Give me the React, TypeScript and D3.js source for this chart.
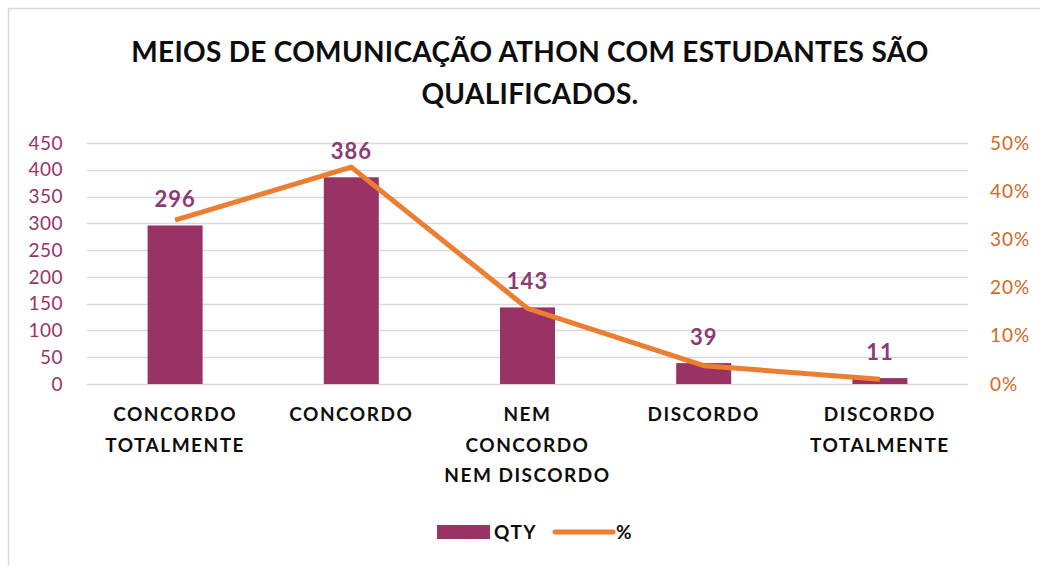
import React, { useRef, useEffect } from 'react'
import * as d3 from 'd3'

// chart data
const categories = [
  ['CONCORDO', 'TOTALMENTE'],
  ['CONCORDO'],
  ['NEM', 'CONCORDO', 'NEM DISCORDO'],
  ['DISCORDO'],
  ['DISCORDO', 'TOTALMENTE'],
]
const qty = [296, 386, 143, 39, 11]
const pct = [0.34, 0.45, 0.157, 0.038, 0.01]
const leftTicks = [0, 50, 100, 150, 200, 250, 300, 350, 400, 450]
const rightTicks = [0, 0.1, 0.2, 0.3, 0.4, 0.5]
const titleLines = ['MEIOS DE COMUNICAÇÃO ATHON COM ESTUDANTES SÃO', 'QUALIFICADOS.']

const BAR = '#993366'
const LINE = '#ED7D31'
const FONT = 'Lato, "Open Sans", sans-serif'

function App() {
  const svgRef = useRef(null)

  useEffect(() => {
    const width = 1040
    const height = 566
    const svg = d3.select(svgRef.current)
    svg.selectAll('*').remove()
    svg.attr('width', width).attr('height', height).style('font-family', FONT)

    //frame
    svg
      .append('rect')
      .attr('x', 8.5)
      .attr('y', 8.5)
      .attr('width', 1040)
      .attr('height', 570)
      .attr('fill', '#fff')
      .attr('stroke', '#d9d9d9')
      .attr('stroke-width', 1.5)

    //title
    svg
      .append('g')
      .selectAll('text')
      .data(titleLines)
      .join('text')
      .attr('x', 530)
      .attr('y', (d, i) => 62 + i * 42)
      .attr('text-anchor', 'middle')
      .attr('font-size', 28)
      .attr('letter-spacing', 0.3)
      .attr('font-weight', 700)
      .attr('fill', '#0d0d0d')
      .text((d) => d)

    const plot = { left: 87, right: 968, top: 143, bottom: 384 }

    const x = d3
      .scaleBand()
      .domain(categories.map((d, i) => String(i)))
      .range([plot.left, plot.right])
    const yL = d3.scaleLinear().domain([0, 450]).range([plot.bottom, plot.top])
    const yR = d3.scaleLinear().domain([0, 0.5]).range([plot.bottom, plot.top])

    //gridlines
    svg
      .append('g')
      .selectAll('line')
      .data(leftTicks)
      .join('line')
      .attr('x1', plot.left)
      .attr('x2', plot.right)
      .attr('y1', (d) => Math.round(yL(d)) + 0.5)
      .attr('y2', (d) => Math.round(yL(d)) + 0.5)
      .attr('stroke', '#d9d9d9')
      .attr('stroke-width', 1.5)

    //left axis labels
    svg
      .append('g')
      .selectAll('text')
      .data(leftTicks)
      .join('text')
      .attr('x', 63)
      .attr('y', (d) => yL(d))
      .attr('dy', '0.35em')
      .attr('text-anchor', 'end')
      .attr('font-size', 19)
      .attr('letter-spacing', 0.5)
      .attr('fill', BAR)
      .text((d) => d)

    //right axis labels
    svg
      .append('g')
      .selectAll('text')
      .data(rightTicks)
      .join('text')
      .attr('x', 990)
      .attr('y', (d) => yR(d))
      .attr('dy', '0.35em')
      .attr('text-anchor', 'start')
      .attr('font-size', 19)
      .attr('letter-spacing', 1)
      .attr('fill', '#D2691E')
      .text((d) => d3.format('.0%')(d))

    const bw = 55
    //bars
    svg
      .append('g')
      .selectAll('rect')
      .data(qty)
      .join('rect')
      .attr('x', (d, i) => x(String(i))! + x.bandwidth() / 2 - bw / 2)
      .attr('y', (d) => yL(d))
      .attr('width', bw)
      .attr('height', (d) => yL(0) - yL(d))
      .attr('fill', BAR)

    //line
    const line = d3
      .line<number>()
      .x((d, i) => x(String(i))! + x.bandwidth() / 2)
      .y((d) => yR(d))
    svg
      .append('path')
      .datum(pct)
      .attr('d', line)
      .attr('fill', 'none')
      .attr('stroke', LINE)
      .attr('stroke-width', 5)
      .attr('stroke-linejoin', 'round')

    //data labels
    svg
      .append('g')
      .selectAll('text')
      .data(qty)
      .join('text')
      .attr('x', (d, i) => x(String(i))! + x.bandwidth() / 2)
      .attr('y', (d) => yL(d) - 26)
      .attr('dy', '0.35em')
      .attr('text-anchor', 'middle')
      .attr('font-size', 22)
      .attr('letter-spacing', 1)
      .attr('font-weight', 700)
      .attr('fill', '#8B3A73')
      .text((d) => d)

    //category labels
    const cat = svg
      .append('g')
      .selectAll('text')
      .data(categories)
      .join('text')
      .attr('text-anchor', 'middle')
      .attr('font-size', 19)
      .attr('letter-spacing', 1.5)
      .attr('font-weight', 700)
      .attr('fill', '#0d0d0d')
    cat
      .selectAll('tspan')
      .data((d, i) => d.map((s) => ({ s, i })))
      .join('tspan')
      .attr('x', (d) => x(String(d.i))! + x.bandwidth() / 2)
      .attr('y', (d, j) => 421 + j * 30.5)
      .text((d) => d.s)

    //legend
    const lg = svg.append('g')
    lg.append('rect')
      .attr('x', 437)
      .attr('y', 525)
      .attr('width', 53)
      .attr('height', 14)
      .attr('fill', BAR)
    lg.append('text')
      .attr('x', 494)
      .attr('y', 532)
      .attr('dy', '0.35em')
      .attr('font-size', 19)
      .attr('letter-spacing', 1.5)
      .attr('font-weight', 700)
      .attr('fill', '#0d0d0d')
      .text('QTY')
    lg.append('line')
      .attr('x1', 555)
      .attr('x2', 613)
      .attr('y1', 532)
      .attr('y2', 532)
      .attr('stroke', LINE)
      .attr('stroke-width', 5)
      .attr('stroke-linecap', 'round')
    lg.append('text')
      .attr('x', 616)
      .attr('y', 532)
      .attr('dy', '0.35em')
      .attr('font-size', 19)
      .attr('font-weight', 700)
      .attr('fill', '#0d0d0d')
      .text('%')
  }, [])

  return (
    <div style={{ position: 'absolute', left: 0, top: 0 }}>
      <svg ref={svgRef} style={{ display: 'block' }} />
    </div>
  )
}

export default App
